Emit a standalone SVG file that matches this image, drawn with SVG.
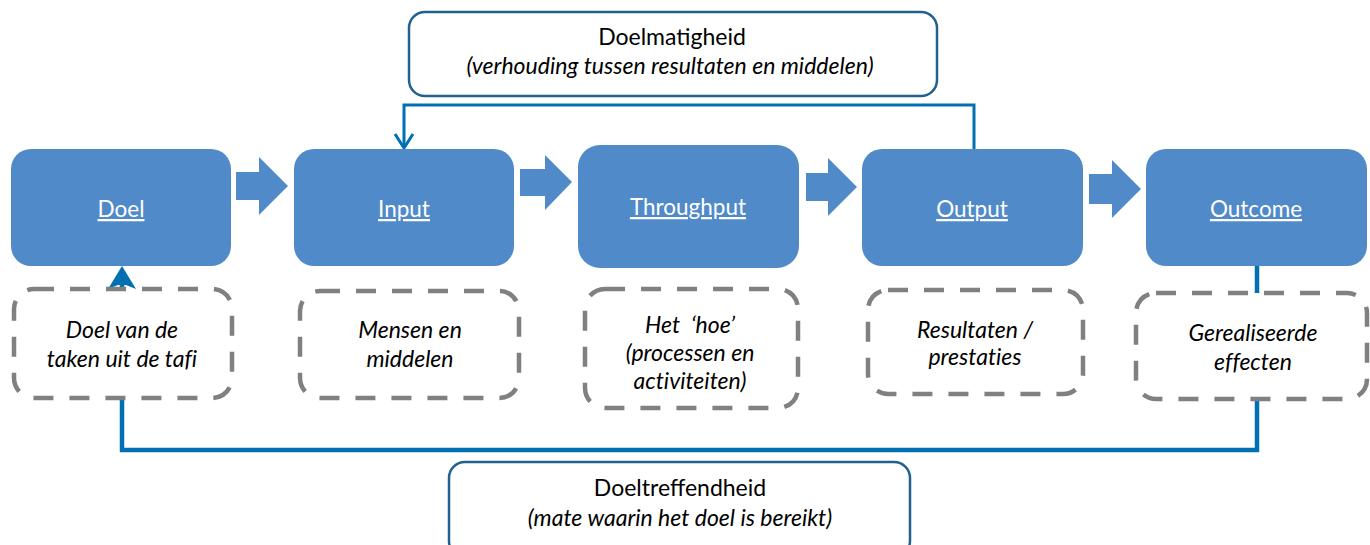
<svg xmlns="http://www.w3.org/2000/svg" width="1370" height="545" viewBox="0 0 1370 545">
<style>
.blk{fill:#508AC9}
.lbl{font-family:Lato,"Liberation Sans",sans-serif;font-size:22.5px;fill:#fff;text-decoration:underline;text-anchor:middle}
.dash{fill:#fff;stroke:#808080;stroke-width:4.5;stroke-dasharray:20 16}
.it{font-family:Lato,"Liberation Sans",sans-serif;font-size:23px;font-style:italic;fill:#000;text-anchor:middle;font-variant-ligatures:no-common-ligatures no-discretionary-ligatures no-contextual;font-feature-settings:"liga" 0,"clig" 0,"calt" 0,"dlig" 0}
.bx{fill:#fff;stroke:#21618F;stroke-width:2.5}
.t{font-family:Lato,"Liberation Sans",sans-serif;font-size:23px;fill:#000;text-anchor:middle}
.con{fill:none;stroke:#0070B2}
</style>
<g id="connectors">
<polyline class="con" stroke-width="4.5" points="1257,266 1257,450 122,450 122,285"/>
<path d="M122,266 L136,289 L126,285 L118,285 L108,289 Z" fill="#0070B2"/>
<polyline class="con" stroke-width="3" points="974,149 974,105 404,105 404,147"/>
<polyline class="con" stroke-width="3" points="395,134 404,148 413,134"/>
<path class="blk" d="M236,172 H259 V157 L288,186 L259,215 V200 H236 Z"/>
<path class="blk" d="M520,169 H545 V155 L572,182 L545,210 V196 H520 Z"/>
<path class="blk" d="M806,173 H828 V158 L857,187 L828,216 V201 H806 Z"/>
<path class="blk" d="M1089,174 H1112 V160 L1141,189 L1112,218 V204 H1089 Z"/>
</g>
<g id="doelmatigheid">
<rect class="bx" x="409" y="12" width="528" height="84" rx="16"/>
<text class="t" x="672" y="45">Doelmatigheid</text>
<text class="t" x="670" y="74" font-style="italic">(verhouding tussen resultaten en middelen)</text>
</g>
<g id="doeltreffendheid">
<rect class="bx" x="449" y="462" width="461" height="95" rx="16"/>
<text class="t" x="680" y="496">Doeltreffendheid</text>
<text class="t" x="680" y="526" font-style="italic">(mate waarin het doel is bereikt)</text>
</g>
<g id="doel">
<rect class="blk" x="11" y="149" width="220" height="117" rx="20"/>
<text class="lbl" x="121" y="217">Doel</text>
</g>
<g id="input">
<rect class="blk" x="294" y="149" width="220" height="117" rx="20"/>
<text class="lbl" x="404" y="217">Input</text>
</g>
<g id="throughput">
<rect class="blk" x="578" y="145" width="221" height="123" rx="22"/>
<text class="lbl" x="688" y="215">Throughput</text>
</g>
<g id="output">
<rect class="blk" x="862" y="149" width="221" height="117" rx="20"/>
<text class="lbl" x="972" y="217">Output</text>
</g>
<g id="outcome">
<rect class="blk" x="1146" y="149" width="221" height="117" rx="20"/>
<text class="lbl" x="1256" y="217">Outcome</text>
</g>
<g id="doel-desc">
<rect class="dash" x="14" y="289" width="218" height="109" rx="20"/>
<text class="it" x="122" y="338">Doel van de</text>
<text class="it" x="122" y="367">taken uit de tafi</text>
</g>
<g id="input-desc">
<rect class="dash" x="300" y="291" width="219" height="107" rx="20"/>
<text class="it" x="410" y="338">Mensen en</text>
<text class="it" x="410" y="367">middelen</text>
</g>
<g id="throughput-desc">
<rect class="dash" x="585" y="289" width="213" height="119" rx="20"/>
<text class="it" x="690" y="333" style="white-space:pre">Het  ‘hoe’</text>
<text class="it" x="690" y="361">(processen en</text>
<text class="it" x="690" y="389">activiteiten)</text>
</g>
<g id="output-desc">
<rect class="dash" x="868" y="290" width="215" height="104" rx="20"/>
<text class="it" x="975" y="338">Resultaten /</text>
<text class="it" x="975" y="365">prestaties</text>
</g>
<g id="outcome-desc">
<rect class="dash" x="1136" y="293" width="231" height="106" rx="20"/>
<text class="it" x="1253" y="341">Gerealiseerde</text>
<text class="it" x="1253" y="370">effecten</text>
</g>
</svg>
